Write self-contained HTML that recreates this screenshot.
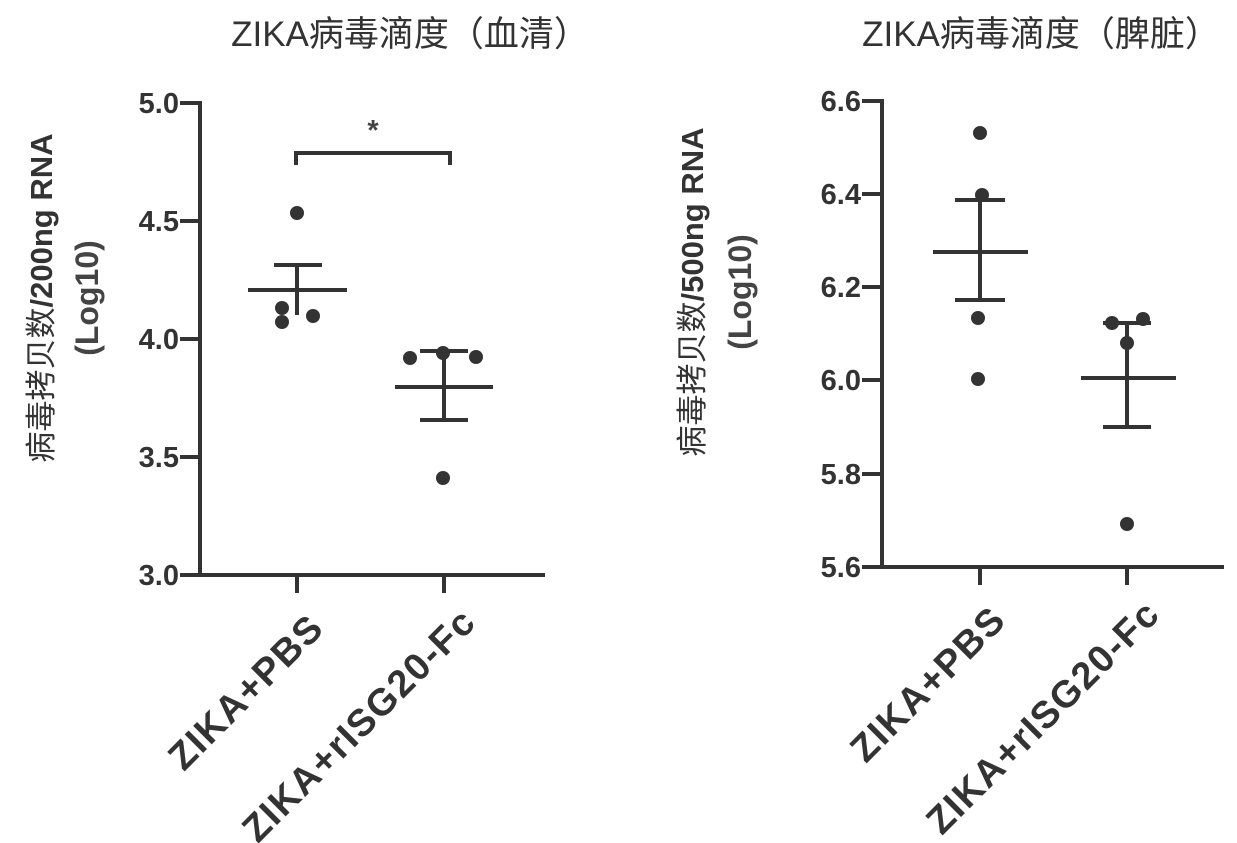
<!DOCTYPE html><html><head><meta charset="utf-8"><style>body{margin:0;background:#fff}svg{display:block}
text{font-family:"Liberation Sans","Noto Sans CJK SC",sans-serif;fill:#333}
.t{font-size:35px}.k{font-size:29px;font-weight:bold;fill:#444}.r{font-size:32px;font-weight:bold;fill:#444}
.x{font-size:38px;font-weight:bold;fill:#444;letter-spacing:1.5px}
</style></head><body>
<svg width="1237" height="843" viewBox="0 0 1237 843" xmlns="http://www.w3.org/2000/svg">
<g stroke="#333" stroke-width="4" fill="none">
<path d="M200 101V577M198 575H545"/>
<path d="M180 103H200M180 221H200M180 339H200M180 457H200M180 575H200"/>
<path d="M297 575V593M444 575V593"/>
<path d="M296 165V153H450V165"/>
<path d="M248 290H347M274 265H322M297 265V315"/>
<path d="M395 387H493M420 351H468M420 420H468M444 351V420"/>
<path d="M882 99V569M880 567H1224"/>
<path d="M862 101H882M862 194H882M862 287H882M862 380H882M862 474H882M862 567H882"/>
<path d="M980 567V585M1127 567V585"/>
<path d="M933 252H1028M955 200H1005M955 300H1005M980 200V300"/>
<path d="M1081 378H1176M1103 323H1151M1103 427H1151M1127 323V427"/>
</g>
<g fill="#333">
<circle cx="297" cy="213" r="7"/><circle cx="282" cy="308" r="7"/><circle cx="282" cy="322" r="7"/><circle cx="313" cy="316" r="7"/>
<circle cx="410" cy="358" r="7"/><circle cx="443" cy="353" r="7"/><circle cx="476" cy="357" r="7"/><circle cx="443" cy="478" r="7"/>
<circle cx="980" cy="133" r="7"/><circle cx="982" cy="195" r="7"/><circle cx="978" cy="318" r="7"/><circle cx="978" cy="379" r="7"/>
<circle cx="1112" cy="323" r="7"/><circle cx="1143" cy="319" r="7"/><circle cx="1127" cy="343" r="7"/><circle cx="1127" cy="524" r="7"/>
</g>
<text x="373" y="140" class="k" text-anchor="middle">*</text>
<text x="410" y="46" class="t" text-anchor="middle">ZIKA病毒滴度（血清）</text>
<text x="1041" y="46" class="t" text-anchor="middle">ZIKA病毒滴度（脾脏）</text>
<g class="k" text-anchor="end">
<text x="179" y="113">5.0</text><text x="179" y="231">4.5</text><text x="179" y="349">4.0</text><text x="179" y="467">3.5</text><text x="179" y="585">3.0</text>
<text x="861" y="111">6.6</text><text x="861" y="204">6.4</text><text x="861" y="297">6.2</text><text x="861" y="390">6.0</text><text x="861" y="484">5.8</text><text x="861" y="577">5.6</text>
</g>
<g class="x" text-anchor="end">
<text transform="translate(326,630) rotate(-45)">ZIKA+PBS</text>
<text transform="translate(478,624) rotate(-45)">ZIKA+rISG20-Fc</text>
<text transform="translate(1008,622) rotate(-45)">ZIKA+PBS</text>
<text transform="translate(1162,616) rotate(-45)">ZIKA+rISG20-Fc</text>
</g>
<g transform="translate(52,298) rotate(-90)" text-anchor="middle">
<text y="0" style="font-size:31px"><tspan>病毒拷贝数</tspan><tspan font-weight="bold">/200ng RNA</tspan></text>
<text y="46" class="r">(Log10)</text></g>
<g transform="translate(703,292) rotate(-90)" text-anchor="middle">
<text y="0" style="font-size:31px"><tspan>病毒拷贝数</tspan><tspan font-weight="bold">/500ng RNA</tspan></text>
<text y="48" class="r">(Log10)</text></g>
</svg></body></html>
